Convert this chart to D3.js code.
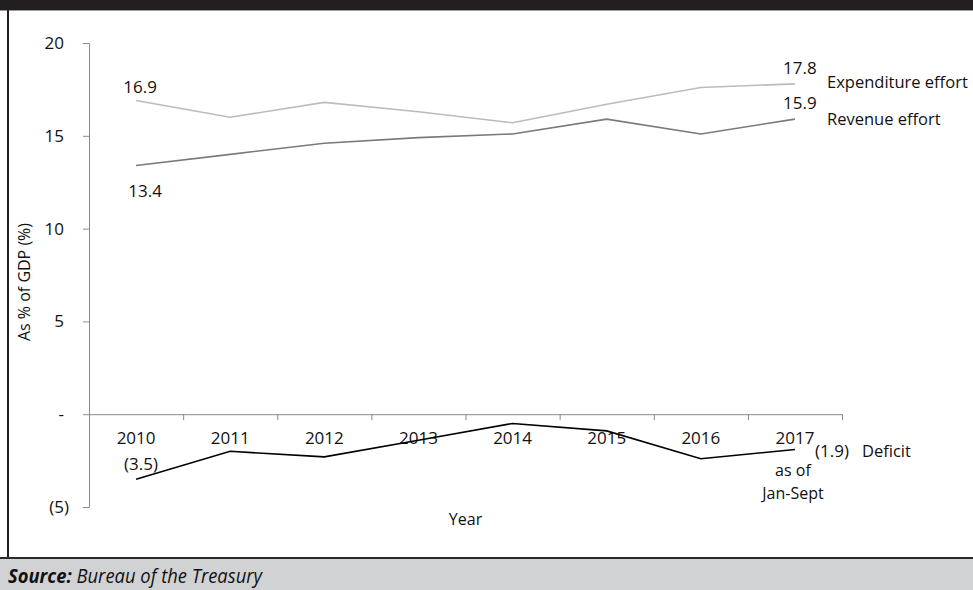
<!DOCTYPE html>
<html>
<head>
<meta charset="utf-8">
<script src="https://cdn.jsdelivr.net/npm/d3@7"></script>
<style>
  body { margin: 0; background: #fff; }
  text { font-family: "Open Sans", sans-serif; fill: #111; }
</style>
</head>
<body>
<svg id="chart" width="973" height="590"></svg>
<script>
// Fiscal effort series, as % of GDP
const years = ["2010", "2011", "2012", "2013", "2014", "2015", "2016", "2017"];
const expenditure = [16.9, 16.0, 16.8, 16.3, 15.7, 16.7, 17.6, 17.8];
const revenue = [13.4, 14.0, 14.6, 14.9, 15.1, 15.9, 15.1, 15.9];
const deficit = [-3.5, -2.0, -2.3, -1.4, -0.5, -0.9, -2.4, -1.9];
const yTicks = [-5, 0, 5, 10, 15, 20];

const W = 973, H = 590;
const svg = d3.select("#chart");

// Frame: dark header strip, left rule, footer band
svg.append("rect").attr("x", 0).attr("y", 0).attr("width", W).attr("height", 10).attr("fill", "#231f20");
svg.append("line").attr("x1", 0).attr("x2", W).attr("y1", 10.5).attr("y2", 10.5).attr("stroke", "#9b9b9b").attr("stroke-width", 1);

svg.append("line").attr("x1", 8).attr("x2", 8).attr("y1", 10).attr("y2", 558).attr("stroke", "#231f20").attr("stroke-width", 2);
svg.append("rect").attr("x", 0).attr("y", 559).attr("width", W).attr("height", H - 559).attr("fill", "#d1d2d4");
svg.append("line").attr("x1", 0).attr("x2", W).attr("y1", 558).attr("y2", 558).attr("stroke", "#2b2b2b").attr("stroke-width", 2);

const src = svg.append("text").attr("transform", "translate(8,583) scale(0.92,1)")
  .style("font-size", "20px").style("font-style", "italic");
src.append("tspan").style("font-weight", "bold").text("Source:");
src.append("tspan").text(" Bureau of the Treasury");

// Scales
const x0 = 89, x1 = 842;
const x = d3.scaleBand().domain(years).range([x0, x1]).paddingInner(0).paddingOuter(0);
const y = d3.scaleLinear().domain([-5, 20]).range([507, 43]);
const cx = d => x(d) + x.bandwidth() / 2;

// Y axis
const fmt = v => v === 0 ? "-" : v < 0 ? "(" + Math.abs(v) + ")" : String(v);
const yAxis = svg.append("g").attr("transform", `translate(${x0},0)`)
  .call(d3.axisLeft(y).tickValues(yTicks).tickSize(6).tickFormat(fmt));
yAxis.select(".domain").attr("stroke", "#8a8a8a");
yAxis.selectAll(".tick line").attr("stroke", "#8a8a8a");
yAxis.selectAll(".tick text")
  .attr("x", d => d < 0 ? -20 : -25)
  .style("font-size", "17px").style("font-family", "'Open Sans', sans-serif").attr("fill", "#111");

// X axis: boundary ticks on the zero line, year labels under each band
const xb = d3.scaleLinear().domain([0, years.length]).range([x0, x1]);
const xAxis = svg.append("g").attr("transform", `translate(0,${y(0)})`)
  .call(d3.axisBottom(xb).ticks(years.length).tickSize(6).tickSizeOuter(0).tickFormat(""));
xAxis.select(".domain").attr("stroke", "#8a8a8a");
xAxis.selectAll(".tick line").attr("stroke", "#8a8a8a");

const xLab = svg.append("g").attr("transform", `translate(0,${y(0)})`)
  .call(d3.axisBottom(x).tickSize(0).tickPadding(18));
xLab.select(".domain").remove();
xLab.selectAll(".tick text").style("font-size", "17px").style("font-family", "'Open Sans', sans-serif").attr("fill", "#111");

// Axis titles
svg.append("text").attr("x", (x0 + x1) / 2).attr("y", 525).attr("text-anchor", "middle")
  .style("font-size", "16px").text("Year");
svg.append("text").attr("transform", "translate(30,282) rotate(-90)").attr("text-anchor", "middle")
  .style("font-size", "16px").text("As % of GDP (%)");

// Lines
const line = d3.line().x((d, i) => cx(years[i])).y(d => y(d));
const series = [
  { name: "Expenditure effort", values: expenditure, color: "#bcbcbc" },
  { name: "Revenue effort", values: revenue, color: "#7a7a7a" },
  { name: "Deficit", values: deficit, color: "#000" }
];
svg.selectAll("path.series").data(series).join("path")
  .attr("class", "series")
  .attr("d", d => line(d.values))
  .attr("fill", "none")
  .attr("stroke", d => d.color)
  .attr("stroke-width", 1.6);

// Value labels on end points
const n = years.length - 1;
const lab = (t, px, py, anchor = "middle", size = 17) =>
  svg.append("text").attr("x", px).attr("y", py).attr("text-anchor", anchor).style("font-size", size + "px").text(t);
const valFmt = v => v < 0 ? "(" + Math.abs(v).toFixed(1) + ")" : v.toFixed(1);

lab(valFmt(expenditure[0]), cx(years[0]) + 4, y(expenditure[0]) - 8);
lab(valFmt(revenue[0]), cx(years[0]) + 9, y(revenue[0]) + 32);
lab(valFmt(deficit[0]), cx(years[0]) + 5, y(deficit[0]) - 9);
lab(valFmt(expenditure[n]), cx(years[n]) + 5, y(expenditure[n]) - 10);
lab(valFmt(revenue[n]), cx(years[n]) + 5, y(revenue[n]) - 10);
lab(valFmt(deficit[n]), cx(years[n]) + 37, y(deficit[n]) + 8);

// Series names and the partial-year note under 2017
lab("Expenditure effort", 827, y(expenditure[n]) + 4, "start", 16.5);
lab("Revenue effort", 827, y(revenue[n]) + 6, "start", 16.5);
lab("Deficit", 862, y(deficit[n]) + 8, "start", 16.5);
lab("as of", cx(years[n]) - 2, 476, "middle", 16);
lab("Jan-Sept", cx(years[n]) - 2, 499, "middle", 16);
</script>
</body>
</html>
